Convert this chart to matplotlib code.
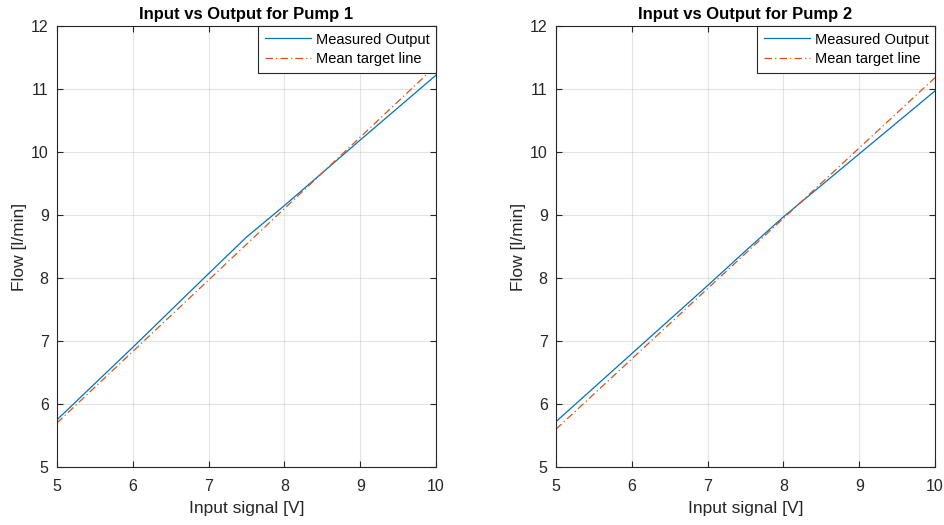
# input vs output for the two pumps
import numpy as np
import matplotlib
matplotlib.use('Agg')
import matplotlib.pyplot as plt

matplotlib.rc('font', family=['Liberation Sans', 'DejaVu Sans'], size=10)

# measured points (input signal in V, flow in l/min)
input_v = [5, 6, 7, 7.5, 8, 9, 10]
pump1_flow = [5.75, 6.90, 8.07, 8.65, 9.15, 10.19, 11.22]
pump2_flow = [5.72, 6.80, 7.88, 8.43, 8.97, 9.97, 10.97]

# mean target line end points
target_x = [5, 10]
pump1_target = [5.70, 11.37]
pump2_target = [5.60, 11.18]

titles = ['Input vs Output for Pump 1', 'Input vs Output for Pump 2']
blue = '#0072BD'
orange = '#D95319'
axcol = '#262626'

fig = plt.figure(figsize=(9.44, 5.25), dpi=100)
ax1 = fig.add_axes([0.0604, 0.1105, 0.4015, 0.84])
ax2 = fig.add_axes([0.589, 0.1105, 0.4015, 0.84])

for ax, flow, target, title in zip([ax1, ax2], [pump1_flow, pump2_flow],
                                   [pump1_target, pump2_target], titles):
    ax.plot(input_v, flow, color=blue, lw=0.9, label='Measured Output')
    ax.plot(target_x, target, color=orange, lw=0.9, dashes=(6, 2.5, 1, 2.5),
            label='Mean target line')
    ax.set_xlim(5, 10)
    ax.set_ylim(5, 12)
    ax.set_xticks(range(5, 11))
    ax.set_yticks(range(5, 13))
    ax.grid(True, color='#262626', alpha=0.12, lw=0.8)
    ax.set_axisbelow(True)
    ax.tick_params(direction='in', top=True, right=True, colors=axcol,
                   labelsize=11.5, length=4, width=0.8, pad=6)
    ax.tick_params(axis='x', pad=9)
    for s in ax.spines.values():
        s.set_color(axcol)
        s.set_linewidth(0.8)
    ax.set_title(title, fontsize=12, fontweight='bold', color='black', pad=5)
    ax.set_xlabel('Input signal [V]', fontsize=12.5, color=axcol, labelpad=5)
    ax.set_ylabel('Flow [l/min]', fontsize=12.5, color=axcol, labelpad=3)
    leg = ax.legend(loc='upper right', fontsize=10.5, fancybox=False,
                    framealpha=1, edgecolor=axcol, borderaxespad=0,
                    handlelength=3.2, handletextpad=0.3, borderpad=0.45,
                    labelspacing=0.4)
    leg.get_frame().set_linewidth(0.8)

plt.savefig('out.png', dpi=100)
